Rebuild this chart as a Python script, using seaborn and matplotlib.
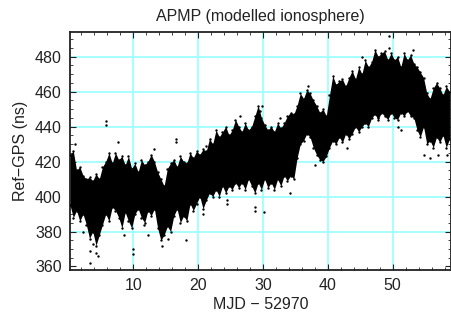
import matplotlib
matplotlib.use("Agg")
import matplotlib.pyplot as plt
import seaborn as sns
import pandas as pd
from matplotlib.ticker import MultipleLocator

# ---- data ----
band_x = [0.25 + 0.5 * i for i in range(118)]
band_lo = [395, 388, 392, 386, 390, 384, 376, 380, 372, 378,
           384, 390, 386, 394, 392, 388, 382, 391, 386, 382,
           390, 393, 388, 385, 392, 389, 393, 382, 375, 378,
           383, 380, 389, 393, 385, 389, 386, 396, 392, 396,
           400, 393, 398, 402, 400, 404, 400, 406, 402, 406,
           404, 408, 405, 408, 404, 410, 406, 402, 408, 404,
           410, 405, 408, 404, 410, 406, 412, 409, 412, 410,
           422, 430, 432, 436, 434, 428, 424, 421, 420, 423,
           428, 432, 430, 434, 431, 436, 433, 436, 440, 437,
           440, 442, 440, 445, 447, 444, 448, 446, 444, 448,
           445, 444, 448, 446, 449, 446, 445, 438, 434, 440,
           430, 432, 428, 434, 431, 435, 428, 433]
band_hi = [424, 426, 415, 417, 412, 410, 411, 409, 413, 410,
           417, 420, 425, 419, 425, 421, 423, 418, 423, 416,
           419, 414, 421, 418, 420, 424, 420, 414, 410, 406,
           416, 419, 421, 417, 423, 420, 419, 425, 422, 426,
           424, 427, 426, 433, 430, 438, 434, 437, 440, 435,
           438, 444, 440, 437, 442, 438, 440, 446, 452, 445,
           441, 438, 440, 437, 442, 439, 442, 446, 448, 447,
           452, 459, 456, 461, 459, 455, 452, 448, 450, 446,
           458, 469, 464, 466, 467, 463, 468, 472, 467, 474,
           470, 478, 474, 477, 484, 480, 482, 483, 478, 482,
           478, 480, 474, 482, 478, 481, 476, 474, 471, 468,
           459, 456, 462, 465, 462, 458, 463, 460]

out_x = [5.8, 5.8, 3.3, 3.3, 4.2, 4.5, 10.0, 9.9, 7.6, 1.0, 14.5, 16.6, 16.6,
         12.3, 18.2, 21.2, 24.5, 24.5, 28.7, 28.7, 30.2, 34.2, 29.8, 29.6,
         49.5, 49.5, 50.8, 51.3, 54.8, 55.8, 57.0, 38.0, 43.0, 47.8, 13.2,
         3.8, 2.2, 8.6, 20.8, 26.4, 32.6, 36.9, 45.2, 53.1, 58.4, 15.4, 11.6]
out_y = [443, 441, 362, 369, 368, 366, 367, 370, 431, 430, 372, 433, 431,
         378, 375, 429, 396, 398, 392, 394, 391, 402, 452, 449,
         492, 485, 440, 438, 424, 422, 424, 418, 428, 445, 427,
         373, 380, 378, 390, 446, 445, 463, 480, 484, 424, 376, 384]

title = "APMP (modelled ionosphere)"
xlabel = "MJD \u2212 52970"
ylabel = "Ref\u2212GPS (ns)"

# ---- plotting ----
sns.set_style("ticks")
plt.rcParams["font.family"] = ["Liberation Sans", "DejaVu Sans"]

fig = plt.figure(figsize=(4.52, 3.22), dpi=100)
ax = fig.add_axes([0.155, 0.1615, 0.843, 0.739])

grid_c = "#a6ffff"
for v in range(10, 60, 10):
    ax.axvline(v, color=grid_c, lw=1.4, zorder=0)
for v in range(380, 500, 20):
    ax.axhline(v, color=grid_c, lw=1.4, zorder=0)

ax.fill_between(band_x, band_lo, band_hi, color="black", lw=0, zorder=2)

edges = pd.DataFrame({"x": band_x + band_x, "y": band_lo + band_hi})
sns.scatterplot(data=edges, x="x", y="y", color="black", s=3, marker="o",
                linewidth=0, ax=ax, zorder=3)
outs = pd.DataFrame({"x": out_x, "y": out_y})
sns.scatterplot(data=outs, x="x", y="y", color="black", s=3, marker="o",
                linewidth=0, ax=ax, zorder=3)

ax.set_xlim(0.25, 59.0)
ax.set_ylim(358, 494)
ax.xaxis.set_major_locator(MultipleLocator(10))
ax.xaxis.set_minor_locator(MultipleLocator(2))
ax.yaxis.set_major_locator(MultipleLocator(20))
ax.yaxis.set_minor_locator(MultipleLocator(5))
ax.tick_params(which="both", direction="in", top=True, right=True,
               labelsize=11.5, colors="#222222", labelcolor="#222222")
ax.tick_params(which="major", length=4, width=0.8, pad=6)
ax.tick_params(which="minor", length=2.5, width=0.6)
for s in ax.spines.values():
    s.set_linewidth(1.3)
    s.set_color("#222222")

ax.set_title(title, fontsize=11.5, pad=8, color="#222222")
ax.set_xlabel(xlabel, fontsize=11.5, labelpad=3, color="#222222")
ax.set_ylabel(ylabel, fontsize=11.5, labelpad=5, color="#222222")

fig.savefig("out.png", dpi=100)
